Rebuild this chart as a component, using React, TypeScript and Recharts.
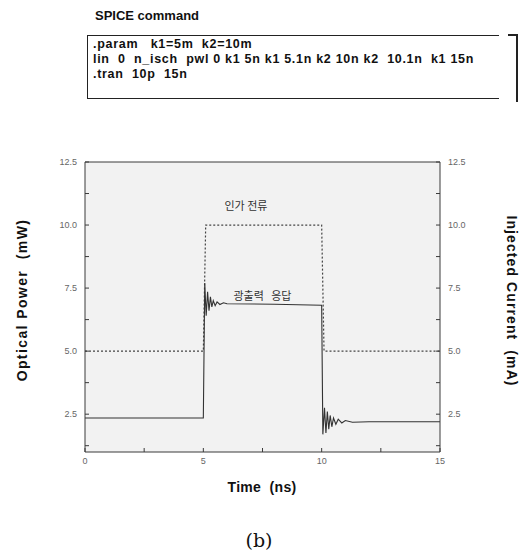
import React from 'react';
import { LineChart, Line, XAxis, YAxis, ReferenceLine, ReferenceDot, CartesianGrid } from 'recharts';

// optical power response (mW), left axis
const powerTime = [0, 5.0, 5.06, 5.12, 5.18, 5.24, 5.3, 5.36, 5.42, 5.5, 5.58, 5.7, 5.85, 6.0, 8.0, 10.0,
  10.05, 10.12, 10.18, 10.24, 10.3, 10.36, 10.43, 10.5, 10.6, 10.7, 10.85, 11.0, 11.3, 12.0, 15];
const powerValue = [2.35, 2.35, 7.7, 6.4, 7.35, 6.6, 7.15, 6.75, 7.0, 6.8, 6.95, 6.85, 6.92, 6.88, 6.86, 6.82,
  1.7, 2.75, 1.75, 2.6, 1.9, 2.45, 2.0, 2.35, 2.1, 2.3, 2.15, 2.25, 2.18, 2.2, 2.2];

// injected current (mA), right axis
const currentTime = [0, 5.0, 5.1, 10.0, 10.1, 15];
const currentValue = [5, 5, 10, 10, 5, 5];

const xTicks = [0, 2.5, 5, 7.5, 10, 12.5, 15];
const xLabels = [0, 5, 10, 15];
const yTicks = [1.25, 2.5, 3.75, 5, 6.25, 7.5, 8.75, 10, 11.25, 12.5];
const yLabels = [2.5, 5, 7.5, 10, 12.5];

const spiceLines = [
  '.param   k1=5m  k2=10m',
  'lin  0  n_isch  pwl 0 k1 5n k1 5.1n k2 10n k2  10.1n  k1 15n',
  '.tran  10p  15n',
];

const powerData = powerTime.map((t, i) => ({ t, v: powerValue[i] }));
const currentData = currentTime.map((t, i) => ({ t, v: currentValue[i] }));

const tickStyle = { fontSize: 9, fill: '#666', fontFamily: 'Arial, Liberation Sans, sans-serif' };
const fmtY = (v: number) => (yLabels.includes(v) ? v.toFixed(1) : '');
const fmtX = (v: number) => (xLabels.includes(v) ? String(v) : '');
const ink = '#3a3a3a';
const korean = { fontSize: 11, fill: '#333', fontFamily: 'Noto Sans CJK KR' };

export default function App() {
  return (
    <div style={{ position: 'absolute', left: 0, top: 0, width: 527, height: 556, background: '#fff', fontFamily: 'Arial, "Liberation Sans", sans-serif', color: '#111' }}>
      <div style={{ position: 'absolute', left: 95, top: 8, fontSize: 13, fontWeight: 'bold' }}>SPICE command</div>
      <div style={{ position: 'absolute', left: 87, top: 35, width: 412, height: 64, borderLeft: '1px solid #222', borderTop: '1px solid #222', borderBottom: '1px solid #222', boxSizing: 'border-box', padding: '1px 0 0 5px' }}>
        {spiceLines.map((l, i) => (
          <div key={i} style={{ fontSize: 12.5, fontWeight: 'bold', lineHeight: '15px', letterSpacing: 0.7, whiteSpace: 'pre' }}>{l}</div>
        ))}
      </div>
      <div style={{ position: 'absolute', left: 508, top: 34, width: 10, height: 68, borderTop: '2px solid #222', borderRight: '2px solid #222', boxSizing: 'border-box' }} />

      <div style={{ position: 'absolute', left: 0, top: 140 }}>
        <LineChart width={527} height={342} margin={{ top: 22, right: 0, left: 0, bottom: 0 }}>
          <CartesianGrid horizontal={false} vertical={false} fill="#f2f2f2" yAxisId="left" />
          <XAxis dataKey="t" type="number" domain={[0, 15]} ticks={xTicks} tickFormatter={fmtX}
            allowDuplicatedCategory={false} tick={tickStyle} tickSize={-4} tickMargin={10} height={30}
            stroke={ink} />
          <YAxis yAxisId="left" dataKey="v" type="number" domain={[1, 12.5]} ticks={yTicks} tickFormatter={fmtY}
            allowDataOverflow tick={tickStyle} tickSize={-4} tickMargin={12} width={85} stroke={ink} />
          <YAxis yAxisId="right" orientation="right" dataKey="v" type="number" domain={[1, 12.5]} ticks={yTicks}
            tickFormatter={fmtY} allowDataOverflow tick={tickStyle} tickSize={-4} tickMargin={12} width={87} stroke={ink} />
          <ReferenceLine yAxisId="left" y={12.5} stroke={ink} />
          <Line yAxisId="right" data={currentData} dataKey="v" type="linear" stroke="#444" strokeWidth={1.2}
            strokeDasharray="2 2" dot={false} isAnimationActive={false} />
          <Line yAxisId="left" data={powerData} dataKey="v" type="linear" stroke="#333" strokeWidth={1.1}
            dot={false} isAnimationActive={false} />
          <ReferenceDot yAxisId="left" x={6.8} y={10.75} r={0} label={{ value: '인가\u00a0전류', ...korean }} />
          <ReferenceDot yAxisId="left" x={7.5} y={7.2} r={0} label={{ value: '광출력\u00a0\u00a0\u00a0응답', ...korean }} />
        </LineChart>
      </div>

      <div style={{ position: 'absolute', left: 22, top: 300, transform: 'translate(-50%, -50%) rotate(-90deg)', whiteSpace: 'pre', fontSize: 14, letterSpacing: 1.4, fontWeight: 'bold' }}>Optical Power  (mW)</div>
      <div style={{ position: 'absolute', left: 512, top: 301, transform: 'translate(-50%, -50%) rotate(90deg)', whiteSpace: 'pre', fontSize: 14, letterSpacing: 1.1, fontWeight: 'bold' }}>Injected Current  (mA)</div>
      <div style={{ position: 'absolute', left: 262, top: 487, transform: 'translate(-50%, -50%)', whiteSpace: 'pre', fontSize: 14, letterSpacing: 0.3, fontWeight: 'bold' }}>Time  (ns)</div>
      <div style={{ position: 'absolute', left: 259, top: 540, transform: 'translate(-50%, -50%)', fontSize: 19, fontFamily: '"DejaVu Serif", serif' }}>(b)</div>
    </div>
  );
}
